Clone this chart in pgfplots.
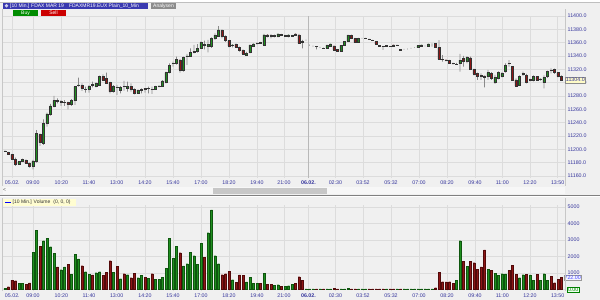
\documentclass[border=0pt]{standalone}
\usepackage{pgfplots}
\pgfplotsset{compat=1.18}
\usepackage{pgfplotstable}
\usepackage{fontspec}
\setmainfont{Liberation Sans}
\definecolor{bg}{HTML}{F0F0F0}
\definecolor{gridc}{HTML}{DCDCDC}
\definecolor{cgreen}{HTML}{1F8F1F}
\definecolor{cred}{HTML}{8E1616}
\definecolor{cgreenD}{HTML}{0E560E}
\definecolor{credD}{HTML}{520A0A}
\definecolor{wickc}{HTML}{8A8A8A}
\definecolor{lab}{HTML}{34349C}
\definecolor{hdr}{HTML}{3A3AB0}
\newcommand{\sm}{\fontsize{5.3bp}{6bp}\selectfont}

\pgfplotstableread{
k o h l c v
0 11197 11198.5 11196 11197.5 70
1 11195.5 11196 11192 11192.5 170
2 11192.5 11193 11184 11185.5 575
3 11185 11187.5 11175 11177.5 535
4 11177.5 11182.5 11177 11181.5 355
5 11182 11186 11181 11185 355
6 11184 11185 11178 11179 310
7 11179 11180 11172.5 11174 395
8 11175 11184 11170 11182.5 2250
9 11181.5 11229 11180 11224 3600
10 11222.5 11224 11205 11210 2635
11 11209 11245 11206.5 11239 2960
12 11239 11255 11234 11253 3120
13 11253 11268 11250.5 11265 2595
14 11265 11280 11263 11273 2190
15 11273 11276.5 11269 11271.5 1365
16 11271 11274 11265 11272 1200
17 11270.5 11274 11265 11271 1365
18 11270.5 11271.5 11260 11267.5 1545
19 11267 11275.5 11265 11273 920
20 11273 11295 11266.5 11294 2130
21 11295.5 11307.5 11294 11296.5 1850
22 11296.5 11299 11287.5 11291.5 1445
23 11289.5 11294 11285 11290 1080
24 11290 11296.5 11285 11294 920
25 11297 11301.5 11293 11296.5 880
26 11294 11300.5 11293 11299 1020
27 11296.5 11310.5 11295 11309 1080
28 11309 11312.5 11303 11304 860
29 11306.5 11315 11298 11299 1040
30 11300 11301.5 11284 11286.5 1745
31 11286.5 11296.5 11285 11294 1040
32 11293.5 11296.5 11281.5 11293 1385
33 11288 11295 11284 11293 655
34 11294.5 11302.5 11288 11294 960
35 11291.5 11301.5 11286.5 11295 900
36 11294.5 11299 11286.5 11290 715
37 11290 11291.5 11282.5 11284 1000
38 11284 11290 11283 11289 715
39 11289 11291.5 11284 11290 840
40 11291.5 11292 11285 11290 755
41 11291 11294 11284 11291.5 695
42 11290.5 11294 11283 11290 960
43 11290 11295 11289 11294 615
44 11294.5 11296 11293 11295 635
45 11295 11304 11294 11302.5 755
46 11301 11316.5 11299 11315 1280
47 11315 11329 11314 11326.5 3100
48 11328.5 11331.5 11324 11329 1870
49 11329 11339 11327 11335 2615
50 11334 11335 11315 11319 2230
51 11319 11339 11316.5 11338 1425
52 11339.5 11343 11326.5 11340 1565
53 11340 11351.5 11339 11345 2250
54 11346 11356.5 11344 11346.5 2050
55 11346.5 11358 11345 11351.5 1525
56 11352 11362 11351 11360 2795
57 11357 11363 11350 11356.5 1950
58 11355 11364 11345.5 11357 3445
59 11355 11368 11352 11366.5 4820
60 11366.5 11374 11364 11371.5 2050
61 11370 11385 11369 11379 1565
62 11379 11380 11366.5 11369 900
63 11370 11371 11361 11363 960
64 11363 11364 11353 11355 1100
65 11355.5 11358 11353 11356.5 595
66 11358 11359 11352 11353 435
67 11353 11354 11346.5 11348 880
68 11349 11350 11342 11343 860
69 11341.5 11346 11340.5 11344 455
70 11345 11357.5 11344 11356.5 755
71 11355 11359 11354 11358 375
72 11358.5 11360.5 11357 11359 375
73 11360 11361 11358 11359.5 375
74 11356.5 11373 11355 11371.5 980
75 11371.5 11373 11368 11369 310
76 11370.5 11373 11366.5 11370 310
77 11370 11372 11368 11370.5 270
78 11369 11374 11368 11373 290
79 11372 11373 11370 11371.5 210
80 11370 11371.5 11369 11370.5 210
81 11369 11372.5 11368 11371.5 230
82 11370 11371.5 11369 11370.5 310
83 11373 11374 11370 11371 375
84 11371.5 11373 11358 11359 775
85 11361.5 11364 11351.5 11360.5 575
86 11364 11364.5 11363 11364 40
87 11356.5 11357 11355.5 11356.5 40
88 11355 11355.5 11354 11355 40
89 11354.5 11355 11350 11354 40
90 11353 11353.5 11352 11353 40
91 11352 11352.5 11351 11351.5 40
92 11351.5 11357 11351 11356.5 40
93 11354 11358.5 11353.5 11358 40
94 11355 11355.5 11348.5 11349 90
95 11349.5 11350 11346.5 11347 40
96 11347 11356.5 11346.5 11356 40
97 11356 11362 11355.5 11361.5 40
98 11361.5 11372 11361 11371.5 90
99 11371.5 11372 11366 11366.5 40
100 11366.5 11367 11359.5 11360 40
101 11360 11367 11359.5 11366.5 40
102 11366.5 11367 11366 11366.5 40
103 11366 11367 11365.5 11366.5 40
104 11365.5 11366 11364.5 11365 40
105 11363.5 11364 11362.5 11363 40
106 11361.5 11362 11357.5 11358 40
107 11355.5 11356 11354.5 11355 40
108 11354.5 11355 11349 11354 40
109 11355 11355.5 11354.5 11355.5 40
110 11354.5 11355 11353.5 11354 40
111 11356.5 11357 11353.5 11354 40
112 11356 11357 11355.5 11356.5 40
113 11349.5 11350 11348.5 11349 40
114 11350 11350.5 11349.5 11350 40
115 11350.5 11351 11350 11350.5 40
116 11351.5 11352 11351 11351.5 40
117 11352.5 11353 11352 11352.5 40
118 11352.5 11356 11352 11355.5 40
119 11354 11357 11353.5 11356.5 40
120 11355 11355.5 11354.5 11355 40
121 11354 11358.5 11353.5 11358 40
122 11356.5 11359 11354 11356.5 40
123 11359 11359.5 11352.5 11353 110
124 11353 11364 11334 11335 1040
125 11335 11341.5 11331.5 11334.5 475
126 11334 11335 11332 11333.5 455
127 11333 11334 11328 11329 475
128 11329 11330 11327 11328.5 355
129 11327.5 11329.5 11326.5 11328 555
130 11329 11343 11316.5 11334 2960
131 11336.5 11340 11324 11331.5 1705
132 11331.5 11340 11329 11338 1385
133 11337 11339 11319 11320 1725
134 11320 11321 11311 11313 1625
135 11314 11315 11304 11310 1240
136 11310.5 11314 11304 11310 1365
137 11310 11310.5 11293 11308.5 2395
138 11309 11319 11304 11315 1240
139 11314 11316 11304 11306.5 1160
140 11300 11311.5 11298 11308 1000
141 11306.5 11317 11305 11315 840
142 11309 11316 11308 11314 960
143 11316.5 11329 11315 11326.5 940
144 11329.5 11334 11324 11329 1160
145 11324 11325 11303 11304 1465
146 11304 11306.5 11294 11295 920
147 11296.5 11311 11295 11309 715
148 11313 11316.5 11310 11314 900
149 11311.5 11313 11299 11300 920
150 11304 11306 11302 11304.5 880
151 11303 11311 11302 11309 575
152 11309 11310 11303 11304 920
153 11305 11306.5 11303 11305.5 555
154 11300 11311 11291.5 11308 960
155 11309 11318 11307 11316.5 555
156 11319 11321.5 11314 11318.5 800
157 11320 11321 11313 11315 415
158 11315 11316 11308 11309 600
159 11310 11311 11303 11304 722
}\candles

\pgfplotsset{
  base/.style={scale only axis, width=562bp, xmin=-0.5714, xmax=160,
    enlargelimits=false, clip mode=individual,
    scaled x ticks=false, scaled y ticks=false,
    /pgf/number format/assume math mode=true},
  pricegeo/.style={base, at={(3bp,-16bp)}, anchor=north west, height=162bp,
    ymin=11157, ymax=11400},
  volgeo/.style={base, at={(3bp,-205bp)}, anchor=north west, height=86bp,
    ymin=-91, ymax=5121},
  gridaxis/.style={axis line style={draw=none}, major tick length=0pt,
    xmajorgrids, ymajorgrids,
    major grid style={draw=gridc, line width=0.8bp},
    xtick={2.1,8,16.1,24,31.9,40,48,56,64,72,79.7,86.7,94.4,102.3,110.3,118.3,126.3,134.3,142.1,150,157.9},
    xticklabels={05.02.,09:00,10:20,11:40,13:00,14:20,15:40,17:00,18:20,19:40,21:00,\textbf{06.02.},02:30,03:52,05:32,07:00,08:20,09:40,11:00,12:20,13:50},
    xticklabel style={font=\sm, text=lab, anchor=north, inner sep=0pt, yshift=-2.5bp},
    yticklabel pos=right,
    yticklabel style={font=\sm, text=lab, anchor=west, inner sep=0pt, xshift=2.5bp}},
}

\begin{document}
\begin{tikzpicture}
\useasboundingbox (0,0) rectangle (600bp,-300bp);
\fill[bg] (0,0) rectangle (600bp,-300bp);
\fill[white] (0,0) rectangle (600bp,-2bp);
\draw[black!25, line width=0.6bp] (0,-2bp) -- (600bp,-2bp);

% ---------- price panel ----------
\begin{axis}[pricegeo, gridaxis,
  ytick={11160,11180,11200,11220,11240,11260,11280,11300,11320,11340,11360,11380,11400},
  yticklabels={11160.0,11180.0,11200.0,11220.0,11240.0,11260.0,11280.0,11300.0,11320.0,11340.0,11360.0,11380.0,11400.0}]
  \addplot[draw=none] coordinates {(0,11300)};
  \draw[black!28, line width=0.8bp] (axis cs:86.7,11157) -- (axis cs:86.7,11400);
\end{axis}
\draw[black!22, line width=0.6bp] (2.5bp,-9bp) -- (2.5bp,-186bp);
\draw[black!22, line width=0.6bp] (565bp,-9bp) -- (565bp,-186bp);

\begin{axis}[pricegeo, hide axis, ybar stacked, bar width=0.9bp]
  \addplot[draw=none, fill=none] table[x=k, y=l] \candles;
  \addplot[draw=none, fill=wickc] table[x=k, y expr={\thisrow{h}-\thisrow{l}}] \candles;
\end{axis}

\begin{axis}[pricegeo, hide axis, ybar stacked, bar width=2.2bp]
  \addplot[draw=none, fill=none] table[x=k, y expr={min(\thisrow{o},\thisrow{c})}] \candles;
  \addplot[fill=cgreen, draw=black!80, line width=0.4bp] table[x=k, y expr={(\thisrow{c}>\thisrow{o}) ? (\thisrow{c}-\thisrow{o}) : 0}] \candles;
  \addplot[fill=cred, draw=black!80, line width=0.4bp] table[x=k, y expr={(\thisrow{c}<\thisrow{o}) ? (\thisrow{o}-\thisrow{c}) : 0}] \candles;
  \node[anchor=west, fill=yellow!22, draw=black!45, line width=0.3bp, inner sep=0.8bp, font=\sm, text=lab] at (axis cs:160,11304) {11304.0};
\end{axis}

% ---------- header ----------
\fill[hdr] (3bp,-2.7bp) rectangle (148bp,-8.7bp);
\fill[white!75!hdr] (6.5bp,-5.7bp) circle (1.9bp);
\node[anchor=west, text=white, inner sep=0pt, font=\fontsize{5bp}{6bp}\selectfont] at (10bp,-5.8bp) {[10 Min.] FDAX MAR 19\hspace{5bp}FDAXMR19.EUX Plain\_10\_Min};
\fill[black!45] (151bp,-2.7bp) rectangle (176bp,-8.7bp);
\node[text=white, inner sep=0pt, font=\fontsize{5bp}{6bp}\selectfont] at (163.5bp,-5.8bp) {Analysen};
\fill[green!55!black] (13bp,-10bp) rectangle (38bp,-16.3bp);
\node[text=white, inner sep=0pt, font=\fontsize{5bp}{6bp}\selectfont] at (25.5bp,-13.2bp) {Buy};
\fill[red!80!black] (41bp,-10bp) rectangle (66bp,-16.3bp);
\node[text=white, inner sep=0pt, font=\fontsize{5bp}{6bp}\selectfont] at (53.5bp,-13.2bp) {Sell};

% ---------- scrollbar & separator ----------
\fill[black!3] (3bp,-187bp) rectangle (565bp,-194bp);
\fill[black!22] (213bp,-187.5bp) rectangle (327bp,-193.5bp);
\node[inner sep=0pt, text=black!70, font=\fontsize{5bp}{6bp}\selectfont] at (4.5bp,-190.5bp) {<};
\draw[black!50, line width=1.2bp] (0,-195.4bp) -- (600bp,-195.4bp);
\draw[white, line width=0.8bp] (0,-196.8bp) -- (600bp,-196.8bp);

% ---------- volume panel ----------
\begin{axis}[volgeo, gridaxis,
  ytick={0,1000,2000,3000,4000,5000},
  yticklabels={{},1000,2000,3000,4000,5000},
  ybar, bar width=2.0bp, bar shift=0pt, restrict y to domain=1:100000]
  \addplot[fill=cgreen, draw=cgreenD, line width=0.3bp] table[x=k, y expr={(\thisrow{c}>=\thisrow{o}) ? \thisrow{v} : 0}] \candles;
  \addplot[fill=cred, draw=credD, line width=0.3bp] table[x=k, y expr={(\thisrow{c}<\thisrow{o}) ? \thisrow{v} : 0}] \candles;
  \node[anchor=west, fill=blue!4, draw=black!40, line width=0.3bp, inner sep=0.8bp, font=\sm, text=blue!75] at (axis cs:159.6,722) {722.00};
  \node[anchor=west, fill=green!6, draw=green!50!black, line width=0.3bp, inner sep=0.8bp, font=\sm, text=green!50!black] at (axis cs:160.6,0) {0.00};
\end{axis}
\draw[black!22, line width=0.6bp] (2.5bp,-198bp) -- (2.5bp,-291bp);
\draw[black!22, line width=0.6bp] (565bp,-198bp) -- (565bp,-291bp);

\fill[yellow!18] (3bp,-199bp) rectangle (76bp,-205.5bp);
\draw[blue, line width=0.8bp] (5bp,-202.3bp) -- (11bp,-202.3bp);
\node[anchor=west, inner sep=0pt, text=black!80, font=\fontsize{5bp}{6bp}\selectfont] at (12.5bp,-202.3bp) {[10 Min.] Volume\hspace{3bp}(0, 0, 0)};
\end{tikzpicture}
\end{document}
